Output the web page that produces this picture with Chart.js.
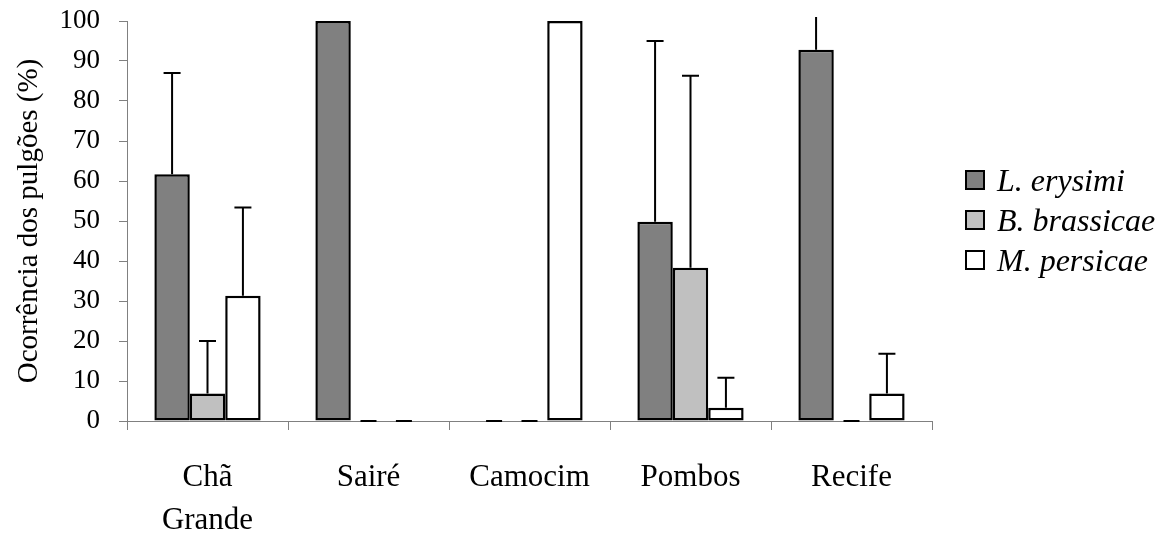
<!DOCTYPE html>
<html>
<head>
<meta charset="utf-8">
<script src="https://cdn.jsdelivr.net/npm/chart.js@4.4.1/dist/chart.umd.min.js"></script>
<style>
    body { margin: 0; background: #fff; }
    .wrap { position: relative; width: 1169px; height: 536px; }
    .legend { position: absolute; left: 965px; top: 160px; font-family: 'Liberation Serif', 'Times New Roman', serif; font-style: italic; font-size: 32px; color: #000; }
    .legend-item { display: flex; align-items: center; height: 40px; }
    .legend-box { width: 16px; height: 16px; border: 2px solid #000; margin-right: 12px; }
</style>
</head>
<body>
<div class="wrap">
    <canvas id="aphidChart"></canvas>
    <div class="legend" id="legend"></div>
</div>
<script>
// Data
const locations = [['Chã', 'Grande'], 'Sairé', 'Camocim', 'Pombos', 'Recife'];
const seriesNames = ['L. erysimi', 'B. brassicae', 'M. persicae'];
const seriesColors = ['#808080', '#c0c0c0', '#ffffff'];

const erysimi = [61.7, 100, 0, 49.8, 92.8];
const brassicae = [6.9, 0, 0, 38.3, 0];
const persicae = [31.3, 0, 100, 3.3, 6.9];

// upper error (standard deviation) for each bar
const erysimiErr = [25.3, 0, 0, 45.2, 10];
const brassicaeErr = [13.1, 0, 0, 48, 0];
const persicaeErr = [22.1, 0, 0, 7.5, 9.9];

const yTicks = [0, 10, 20, 30, 40, 50, 60, 70, 80, 90, 100];

const serif = "'Liberation Serif', 'Times New Roman', serif";

document.addEventListener('DOMContentLoaded', function() {
    // Legend
    const legend = document.getElementById('legend');
    seriesNames.forEach((name, i) => {
        const item = document.createElement('div');
        item.className = 'legend-item';
        const box = document.createElement('span');
        box.className = 'legend-box';
        box.style.background = seriesColors[i];
        const label = document.createElement('span');
        label.textContent = name;
        item.appendChild(box);
        item.appendChild(label);
        legend.appendChild(item);
    });

    // Error bars + small dashes for zero values
    const errorBars = {
        id: 'errorBars',
        afterDatasetsDraw(chart) {
            const ctx = chart.ctx;
            const y = chart.scales.y;
            const area = chart.chartArea;
            ctx.save();
            ctx.beginPath();
            ctx.rect(area.left, area.top - 4, area.right - area.left, area.bottom - area.top + 10);
            ctx.clip();
            ctx.strokeStyle = '#000';
            ctx.lineWidth = 2;
            chart.data.datasets.forEach((ds, i) => {
                const meta = chart.getDatasetMeta(i);
                meta.data.forEach((bar, j) => {
                    const v = ds.data[j];
                    const e = ds.errors[j];
                    ctx.beginPath();
                    if (v === 0) {
                        const y0 = y.getPixelForValue(0);
                        ctx.moveTo(bar.x - 8, y0);
                        ctx.lineTo(bar.x + 8, y0);
                    } else if (e > 0) {
                        const yTop = y.getPixelForValue(v + e);
                        ctx.moveTo(bar.x, y.getPixelForValue(v));
                        ctx.lineTo(bar.x, yTop);
                        ctx.moveTo(bar.x - 8.5, yTop);
                        ctx.lineTo(bar.x + 8.5, yTop);
                    }
                    ctx.stroke();
                });
            });
            ctx.restore();
        }
    };

    const errs = [erysimiErr, brassicaeErr, persicaeErr];
    const values = [erysimi, brassicae, persicae];

    new Chart(document.getElementById('aphidChart'), {
        type: 'bar',
        data: {
            labels: locations,
            datasets: seriesNames.map((name, i) => ({
                label: name,
                data: values[i],
                errors: errs[i],
                backgroundColor: seriesColors[i],
                borderColor: '#000',
                borderWidth: ctx => ctx.raw === 0 ? 0 : 2.5,
                borderSkipped: false,
                barPercentage: 1,
                categoryPercentage: 0.66
            }))
        },
        options: {
            responsive: true,
            maintainAspectRatio: false,
            animation: false,
            layout: {
                padding: { left: 0, top: 21, right: 237, bottom: 0 }
            },
            plugins: {
                legend: { display: false },
                tooltip: { enabled: false }
            },
            scales: {
                x: {
                    afterFit: s => { s.height = 115; },
                    border: { color: '#808080' },
                    grid: {
                        offset: true,
                        drawOnChartArea: false,
                        tickLength: 9,
                        color: '#808080'
                    },
                    ticks: {
                        color: '#000',
                        padding: 26,
                        maxRotation: 0,
                        font: { family: serif, size: 31, lineHeight: 1.4 }
                    }
                },
                y: {
                    min: 0,
                    max: 100,
                    afterFit: s => {
                        s.width = 127;
                        s.paddingTop = 0;
                        s.paddingBottom = 0;
                    },
                    afterBuildTicks: s => { s.ticks = yTicks.map(v => ({ value: v })); },
                    border: { color: '#808080' },
                    grid: {
                        drawOnChartArea: false,
                        tickLength: 8,
                        color: '#808080'
                    },
                    ticks: {
                        color: '#000',
                        padding: 19,
                        font: { family: serif, size: 27 }
                    },
                    title: {
                        display: true,
                        text: 'Ocorrência dos pulgões (%)',
                        color: '#000',
                        padding: { top: 12, bottom: 0 },
                        font: { family: serif, size: 29 }
                    }
                }
            }
        },
        plugins: [errorBars]
    });
});
</script>
</body>
</html>
